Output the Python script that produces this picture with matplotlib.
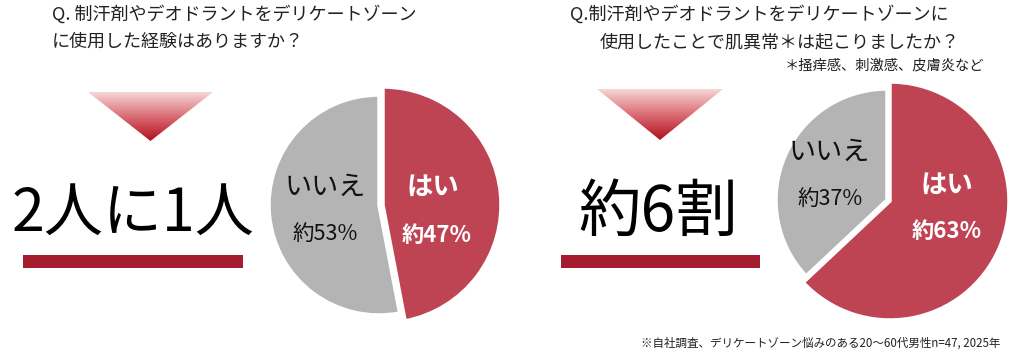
import numpy as np
import matplotlib.pyplot as plt
from matplotlib.patches import Polygon, Rectangle
from matplotlib.colors import LinearSegmentedColormap

plt.rcParams['font.family'] = ['Noto Sans CJK JP', 'DejaVu Sans']

# data
answers = ['はい', 'いいえ']
used_pct = [47, 53]        # left: used on delicate zone
trouble_pct = [63, 37]     # right: skin trouble
left_q = ['Q. 制汗剤やデオドラントをデリケートゾーン', 'に使用した経験はありますか？']
right_q = ['Q.制汗剤やデオドラントをデリケートゾーンに', '使用したことで肌異常＊は起こりましたか？']
right_note = '＊掻痒感、刺激感、皮膚炎など'
left_big = '2人に1人'
right_big = '約6割'
footnote = '※自社調査、デリケートゾーン悩みのある20～60代男性n=47, 2025年'

RED = '#BE4454'
GREY = '#B4B4B4'
BAR = '#A51C2E'
W, H = 1025, 363


def Y(y):
    return H - y


fig = plt.figure(figsize=(10.25, 3.63), dpi=100)
ax = fig.add_axes([0, 0, 1, 1])

grad = LinearSegmentedColormap.from_list('g', ['#F6D6D6', '#DA6C74', '#B20F1F'])


def triangle(x0, x1, ytop, ytip):
    xm = (x0 + x1) / 2
    poly = Polygon([(x0, Y(ytop)), (x1, Y(ytop)), (xm, Y(ytip))], closed=True,
                   facecolor='none', edgecolor='none')
    ax.add_patch(poly)
    g = np.linspace(0, 1, 200).reshape(-1, 1)
    im = ax.imshow(g, cmap=grad, extent=(x0, x1, Y(ytip), Y(ytop)),
                   origin='upper', aspect='auto', zorder=1)
    im.set_clip_path(poly)


def pie(vals, cx, cy, r_grey, r_red, red_shift, lbl_pos):
    wedges, _ = ax.pie(vals, colors=[RED, GREY], startangle=90, counterclock=False,
                       radius=r_grey, center=(cx, Y(cy)), frame=True,
                       wedgeprops=dict(edgecolor='white', linewidth=2.5))
    wedges[0].set_radius(r_red)
    wedges[0].set_center((cx + red_shift[0], Y(cy) + red_shift[1]))
    (yx, yy, yx2, yy2), (nx, ny, nx2, ny2) = lbl_pos
    ax.text(yx, Y(yy), answers[0], color='white', fontsize=19, fontweight='bold',
            ha='center', va='center')
    ax.text(yx2, Y(yy2), f'約{vals[0]}%', color='white', fontsize=16, fontweight='bold',
            ha='center', va='center')
    ax.text(nx, Y(ny), answers[1], color='#111111', fontsize=19.5,
            ha='center', va='center')
    ax.text(nx2, Y(ny2), f'約{vals[1]}%', color='#111111', fontsize=15.5,
            ha='center', va='center')


# left panel
ax.text(52, Y(14), left_q[0], fontsize=13, ha='left', va='center', color='#222222')
ax.text(52, Y(42), left_q[1], fontsize=13, ha='left', va='center', color='#222222')
triangle(88, 213, 92, 141)
ax.text(133, Y(214), left_big, fontsize=42.5, ha='center', va='center', color='black')
ax.add_patch(Rectangle((23, Y(268)), 220, 13, color=BAR, lw=0))
pie(used_pct, 379, 205, 110, 118, (4, 0),
    ((433, 187, 437, 235), (325, 187, 325, 235)))

# right panel
ax.text(570, Y(14), right_q[0], fontsize=13, ha='left', va='center', color='#222222')
ax.text(600, Y(42), right_q[1], fontsize=13, ha='left', va='center', color='#222222')
ax.text(785, Y(65), right_note, fontsize=10.3, ha='left', va='center', color='#222222')
triangle(597, 723, 89, 140)
ax.text(658, Y(213), right_big, fontsize=45, ha='center', va='center', color='black')
ax.add_patch(Rectangle((561, Y(268)), 199, 13, color=BAR, lw=0))
pie(trouble_pct, 887, 200, 111, 119, (3, -1),
    ((947, 185, 947, 232), (829, 152, 830, 200)))

ax.text(1000, Y(343), footnote, fontsize=8.3, ha='right', va='center', color='#222222')

ax.set_xlim(0, W)
ax.set_ylim(0, H)
ax.set_aspect('auto')
ax.axis('off')
fig.savefig('out.png', dpi=100, facecolor='white')
